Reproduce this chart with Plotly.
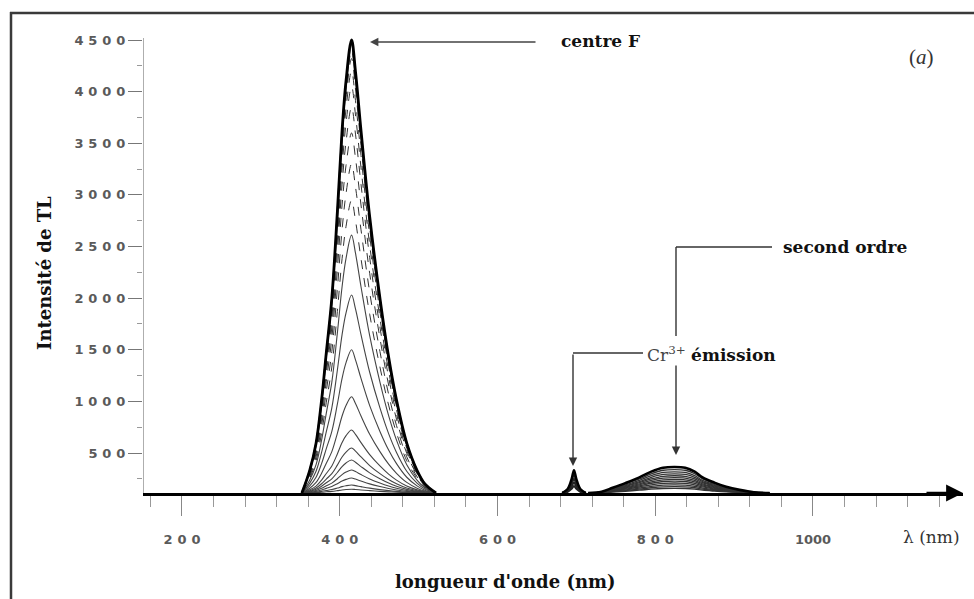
import plotly.graph_objects as go

# ---------------- data ----------------
BASE = 113  # intensity level of the baseline (x axis)

# F-centre band: normalised profile of the outer curve
f_wl = [352, 362, 370, 377, 383, 390, 397, 403, 408, 415, 420, 427, 438, 451, 462, 472, 485, 498, 508, 522]
f_rel = [0.0, 0.05, 0.11, 0.205, 0.31, 0.43, 0.62, 0.80, 0.91, 1.0, 0.93, 0.80, 0.61, 0.43, 0.30, 0.205, 0.11, 0.05, 0.02, 0.0]
# peak intensities of the successive F-band curves
f_peaks = [4500, 4460, 4400, 4320, 4200, 4050, 3850, 3600, 3300, 2950, 2610, 2030, 1500, 1045,
           723, 549, 433, 336, 258, 190, 150]

# second-order band
s_wl = [715, 732, 746, 762, 780, 795, 810, 824, 838, 850, 860, 875, 890, 907, 925, 945]
s_rel = [0.0, 0.05, 0.2, 0.38, 0.6, 0.82, 0.97, 1.0, 0.97, 0.82, 0.6, 0.40, 0.24, 0.12, 0.03, 0.0]
s_peaks = [365, 340, 318, 298, 280, 262, 245, 228, 210, 192, 175, 158]

# Cr3+ emission line
c_wl = [682, 689, 694, 697, 700, 705, 712]
c_rel = [0.0, 0.18, 0.62, 1.0, 0.62, 0.18, 0.0]
c_peaks = [335, 290, 250, 215, 180]

x_ticks = [200, 400, 600, 800, 1000]
SP = "\u2008"
x_ticktext = [SP.join("200"), SP.join("400"), SP.join("600"), SP.join("800"), "1000"]
y_ticks = [500, 1000, 1500, 2000, 2500, 3000, 3500, 4000, 4500]
y_ticktext = [SP.join(str(v)) for v in y_ticks]

# ---------------- layout geometry ----------------
W, H = 974, 599
L, R, T, B = 143, 11, 30, 106
PW, PH = W - L - R, H - T - B
X0, X1 = 150.6, 1190.2
Y0, Y1 = BASE, 4597


def xp(px):
    return (px - L) / PW


def yp(py):
    return (T + PH - py) / PH


fig = go.Figure()


def add_family(wl, rel, peaks, outer_w, inner_style):
    for i in range(len(peaks) - 1, -1, -1):
        p = peaks[i]
        ys = [BASE + (p - BASE) * r for r in rel]
        if i == 0:
            line = dict(color="black", width=outer_w)
        else:
            line = inner_style(i, p)
        fig.add_trace(go.Scatter(x=wl, y=ys, mode="lines", line=line, line_shape="spline",
                                 hoverinfo="skip", showlegend=False))


def f_style(i, p):
    if i == 1:
        return dict(color="#111", width=1.8)
    if p > 2700:
        return dict(color="#333", width=1, dash="dash")
    return dict(color="#444", width=1.1)


add_family(f_wl, f_rel, f_peaks, 2.8, f_style)
add_family(s_wl, s_rel, s_peaks, 2.6, lambda i, p: dict(color="#333", width=1.3))
add_family(c_wl, c_rel, c_peaks, 2.4, lambda i, p: dict(color="#222", width=2))

shapes = []
# frame of the scanned figure
shapes.append(dict(type="line", xref="paper", yref="paper", x0=xp(11), x1=xp(11), y0=yp(12), y1=yp(600),
                   line=dict(color="#3a3a3a", width=2.5)))
shapes.append(dict(type="line", xref="paper", yref="paper", x0=xp(10), x1=xp(976), y0=yp(13), y1=yp(13),
                   line=dict(color="#3a3a3a", width=2.5)))
# y axis line
shapes.append(dict(type="line", xref="x", yref="y", x0=X0, x1=X0, y0=BASE, y1=4520,
                   line=dict(color="#777", width=1.2)))
# leader lines
ln = dict(color="#333", width=1.4)
shapes.append(dict(type="line", xref="paper", yref="paper", x0=xp(772), x1=xp(676), y0=yp(247), y1=yp(247), line=ln))
shapes.append(dict(type="line", xref="paper", yref="paper", x0=xp(676), x1=xp(676), y0=yp(247), y1=yp(336), line=ln))
shapes.append(dict(type="line", xref="paper", yref="paper", x0=xp(643), x1=xp(573), y0=yp(353), y1=yp(353), line=ln))

ann = []
serif_b = "DejaVu Serif"


def text(px, py, t, size=17, family=serif_b, color="#111", xanchor="center", **kw):
    ann.append(dict(x=xp(px), y=yp(py), xref="paper", yref="paper", text=t, showarrow=False,
                    xanchor=xanchor, yanchor="middle",
                    font=dict(family=family, size=size, color=color), **kw))


def arrow(hx, hy, tx, ty, color="#333", width=1.4, size=1.2):
    ann.append(dict(x=xp(hx), y=yp(hy), xref="paper", yref="paper", ax=tx - hx, ay=ty - hy,
                    axref="pixel", ayref="pixel", text="", showarrow=True, arrowhead=2,
                    arrowsize=size, arrowwidth=width, arrowcolor=color))


text(600, 41, "<b>centre F</b>")
arrow(370, 42, 537, 42, color="#444")
text(845, 247, "<b>second ordre</b>")
arrow(676, 455, 676, 364)
arrow(573, 466, 573, 353)
text(645, 354, "<span style='color:#444'>Cr<sup>3+</sup></span> <b>émission</b>", xanchor="left")
text(921, 57, "(<i>a</i>)", size=21, family="Liberation Serif", color="#333")
text(931, 537, "λ (nm)", size=17, family="DejaVu Serif", color="#333")
text(505, 581, "<b>longueur d'onde (nm)</b>", size=18)
text(44, 273, "<b>Intensité de TL</b>", size=18, textangle=-90)
# x-axis arrow head
arrow(963, 493, 925, 493, color="black", width=2.6, size=1.3)

fig.update_layout(
    width=W, height=H, autosize=False,
    margin=dict(l=L, r=R, t=T, b=B, pad=0),
    paper_bgcolor="white", plot_bgcolor="white",
    shapes=shapes, annotations=ann,
    xaxis=dict(range=[X0, X1], showgrid=False, zeroline=False, showline=True, linecolor="black", linewidth=3,
               tickmode="array", tickvals=x_ticks, ticktext=x_ticktext, ticks="outside", ticklen=20,
               tickwidth=1.3, tickcolor="#888", ticklabelstandoff=12,
               tickfont=dict(family="DejaVu Sans", size=13, color="#5a5a5a", weight="bold"),
               minor=dict(tickmode="linear", tick0=0, dtick=40, ticks="outside", ticklen=11, tickwidth=1.2,
                          tickcolor="#999")),
    yaxis=dict(range=[Y0, Y1], showgrid=False, zeroline=False, showline=False,
               tickmode="array", tickvals=y_ticks, ticktext=y_ticktext, ticks="outside", ticklen=14,
               tickwidth=1.2, tickcolor="#777",
               tickfont=dict(family="DejaVu Sans", size=13, color="#5a5a5a", weight="bold"),
               minor=dict(tickmode="linear", tick0=0, dtick=250, ticks="outside", ticklen=5, tickwidth=1.2,
                          tickcolor="#999")),
)

fig.write_html("out.html")
